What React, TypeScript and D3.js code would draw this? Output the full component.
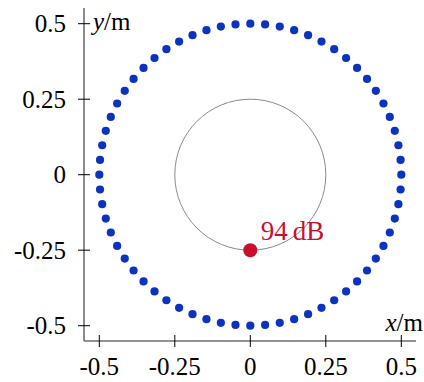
import React from 'react';
import * as d3 from 'd3';

// microphone positions on the ring (angle in degrees, radius in m)
const ringRadius = 0.5;
const micAngles = [
  0, 5.625, 11.25, 16.875, 22.5, 28.125, 33.75, 39.375, 45, 50.625, 56.25, 61.875,
  67.5, 73.125, 78.75, 84.375, 90, 95.625, 101.25, 106.875, 112.5, 118.125, 123.75,
  129.375, 135, 140.625, 146.25, 151.875, 157.5, 163.125, 168.75, 174.375, 180,
  185.625, 191.25, 196.875, 202.5, 208.125, 213.75, 219.375, 225, 230.625, 236.25,
  241.875, 247.5, 253.125, 258.75, 264.375, 270, 275.625, 281.25, 286.875, 292.5,
  298.125, 303.75, 309.375, 315, 320.625, 326.25, 331.875, 337.5, 343.125, 348.75,
  354.375,
];
const sourceRing = { x: 0, y: 0, r: 0.25 };
const source = { x: 0, y: -0.25, label: '94', unit: 'dB' };
const xTicks = [-0.5, -0.25, 0, 0.25, 0.5];
const yTicks = [-0.5, -0.25, 0, 0.25, 0.5];

const font = '"Liberation Serif", "Times New Roman", serif';

const App = () => {
  const x = d3.scaleLinear().domain([-0.5, 0.5]).range([99.3, 401.3]);
  const y = d3.scaleLinear().domain([-0.5, 0.5]).range([325.7, 23.7]);
  const fmt = (v: number) => (v === 0 ? '0' : String(v));
  const mics = micAngles.map((a) => {
    const t = (a * Math.PI) / 180;
    return { px: ringRadius * Math.cos(t), py: ringRadius * Math.sin(t) };
  });
  const axisX = 84;
  const axisY = 341;

  return (
    <svg width={424} height={382} style={{ position: 'absolute', left: 0, top: 0 }} fontFamily={font}>
      <rect width={424} height={382} fill="#fff" />
      {/* sound source ring */}
      <circle
        cx={x(sourceRing.x)}
        cy={y(sourceRing.y)}
        r={x(sourceRing.r) - x(0)}
        fill="none"
        stroke="#8a8a8a"
        strokeWidth={1}
      />
      {mics.map((m, i) => (
        <circle key={i} cx={x(m.px)} cy={y(m.py)} r={4.1} fill="#0b33bf" />
      ))}
      <circle cx={x(source.x)} cy={y(source.y)} r={7} fill="#c8102e" />
      <text x={x(source.x) + 10.5} y={y(source.y) - 10} fontSize={27} fill="#c8102e">
        {source.label}
        <tspan dx={5}>{source.unit}</tspan>
      </text>

      {/* axes */}
      <line x1={axisX} x2={axisX} y1={8} y2={axisY} stroke="#6e6e6e" strokeWidth={1.6} />
      <line x1={axisX} x2={416} y1={axisY} y2={axisY} stroke="#6e6e6e" strokeWidth={1.6} />
      {yTicks.map((t) => (
        <g key={'y' + t}>
          <line x1={axisX - 6} x2={axisX + 6} y1={y(t)} y2={y(t)} stroke="#000" strokeWidth={1} />
          <text x={66} y={y(t)} dy="0.34em" textAnchor="end" fontSize={25} fill="#000">
            {fmt(t)}
          </text>
        </g>
      ))}
      {xTicks.map((t) => (
        <g key={'x' + t}>
          <line x1={x(t)} x2={x(t)} y1={axisY - 6} y2={axisY + 6} stroke="#000" strokeWidth={1} />
          <text x={x(t)} y={375} textAnchor="middle" fontSize={25} fill="#000">
            {fmt(t)}
          </text>
        </g>
      ))}
      <text x={93} y={30} fontSize={25} fill="#000">
        <tspan fontStyle="italic">y</tspan>/m
      </text>
      <text x={423} y={331} textAnchor="end" fontSize={25} fill="#000">
        <tspan fontStyle="italic">x</tspan>/m
      </text>
    </svg>
  );
};

export default App;
